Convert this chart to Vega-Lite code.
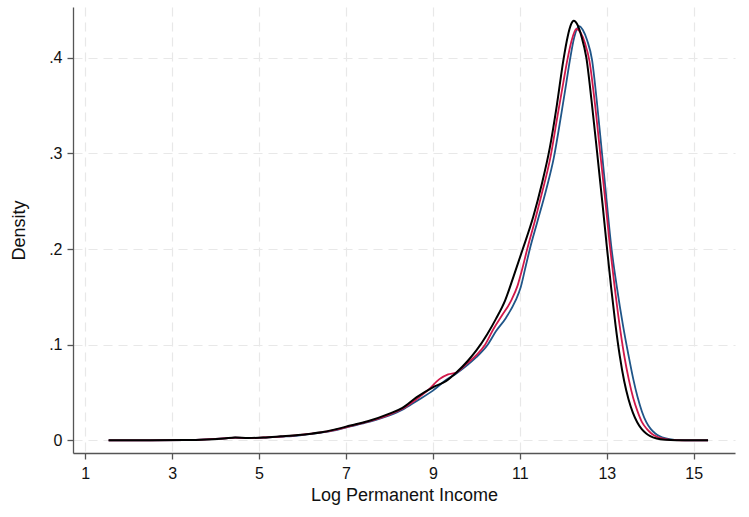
{
  "$schema": "https://vega.github.io/schema/vega-lite/v6.json",
  "autosize": {"type": "none"},
  "padding": {"left": 73, "top": 7, "right": 14, "bottom": 64},
  "width": 662,
  "height": 446,
  "background": "white",
  "config": {
    "view": {"stroke": null},
    "axis": {
      "labelFont": "Liberation Sans",
      "titleFont": "Liberation Sans",
      "labelFontSize": 16,
      "titleFontSize": 18,
      "titleFontWeight": "normal",
      "labelColor": "#111",
      "titleColor": "#111",
      "domainColor": "#555",
      "domainWidth": 1.3,
      "tickColor": "#555",
      "tickWidth": 1.3,
      "tickSize": 6,
      "grid": true,
      "gridColor": "#e8e8e8",
      "gridWidth": 1.2,
      "gridDash": [9, 6]
    }
  },
  "datasets": {
    "blue": [
      {"x":1.54,"y":0},{"x":2.5,"y":0},{"x":3.3,"y":0.0003},{"x":3.8,"y":0.001},{"x":4.2,"y":0.002},{"x":4.45,"y":0.0028},{"x":4.75,"y":0.0025},{"x":5.1,"y":0.0028},{"x":5.5,"y":0.0038},{"x":5.9,"y":0.005},{"x":6.2,"y":0.0068},{"x":6.5,"y":0.0086},{"x":6.8,"y":0.011},{"x":7.1,"y":0.0145},{"x":7.5,"y":0.019},{"x":8.0,"y":0.026},{"x":8.3,"y":0.032},{"x":8.62,"y":0.041},{"x":9.0,"y":0.052},{"x":9.3,"y":0.063},{"x":9.54,"y":0.07},{"x":9.8,"y":0.079},{"x":10.0,"y":0.087},{"x":10.26,"y":0.1},{"x":10.45,"y":0.114},{"x":10.68,"y":0.128},{"x":10.9,"y":0.146},{"x":11.02,"y":0.16},{"x":11.12,"y":0.179},{"x":11.23,"y":0.2},{"x":11.4,"y":0.228},{"x":11.6,"y":0.261},{"x":11.78,"y":0.295},{"x":11.95,"y":0.34},{"x":12.07,"y":0.374},{"x":12.15,"y":0.397},{"x":12.25,"y":0.421},{"x":12.36,"y":0.433},{"x":12.45,"y":0.429},{"x":12.55,"y":0.418},{"x":12.66,"y":0.398},{"x":12.77,"y":0.355},{"x":12.89,"y":0.3},{"x":13.0,"y":0.249},{"x":13.1,"y":0.204},{"x":13.23,"y":0.161},{"x":13.37,"y":0.121},{"x":13.5,"y":0.089},{"x":13.61,"y":0.064},{"x":13.71,"y":0.045},{"x":13.81,"y":0.03},{"x":13.91,"y":0.019},{"x":14.01,"y":0.012},{"x":14.11,"y":0.0075},{"x":14.21,"y":0.0045},{"x":14.36,"y":0.002},{"x":14.56,"y":0.0006},{"x":14.8,"y":0.0001},{"x":15.33,"y":0}
    ],
    "red": [
      {"x":1.54,"y":0},{"x":2.5,"y":0},{"x":3.3,"y":0.0003},{"x":3.8,"y":0.001},{"x":4.2,"y":0.002},{"x":4.45,"y":0.0028},{"x":4.75,"y":0.0025},{"x":5.1,"y":0.003},{"x":5.5,"y":0.004},{"x":5.9,"y":0.0055},{"x":6.2,"y":0.007},{"x":6.5,"y":0.0088},{"x":6.8,"y":0.0115},{"x":7.1,"y":0.015},{"x":7.5,"y":0.0195},{"x":8.0,"y":0.027},{"x":8.3,"y":0.033},{"x":8.62,"y":0.043},{"x":8.9,"y":0.053},{"x":9.15,"y":0.064},{"x":9.35,"y":0.069},{"x":9.54,"y":0.071},{"x":9.8,"y":0.081},{"x":10.0,"y":0.089},{"x":10.2,"y":0.1},{"x":10.4,"y":0.117},{"x":10.58,"y":0.13},{"x":10.8,"y":0.146},{"x":10.95,"y":0.162},{"x":11.06,"y":0.18},{"x":11.17,"y":0.2},{"x":11.35,"y":0.23},{"x":11.5,"y":0.257},{"x":11.7,"y":0.295},{"x":11.87,"y":0.34},{"x":12.0,"y":0.374},{"x":12.09,"y":0.397},{"x":12.18,"y":0.416},{"x":12.3,"y":0.43},{"x":12.4,"y":0.426},{"x":12.5,"y":0.415},{"x":12.6,"y":0.397},{"x":12.72,"y":0.355},{"x":12.85,"y":0.3},{"x":12.97,"y":0.249},{"x":13.07,"y":0.204},{"x":13.18,"y":0.161},{"x":13.29,"y":0.122},{"x":13.4,"y":0.089},{"x":13.51,"y":0.063},{"x":13.61,"y":0.044},{"x":13.71,"y":0.03},{"x":13.81,"y":0.019},{"x":13.92,"y":0.012},{"x":14.02,"y":0.0075},{"x":14.12,"y":0.0045},{"x":14.27,"y":0.002},{"x":14.47,"y":0.0006},{"x":14.72,"y":0.0001},{"x":15.33,"y":0}
    ],
    "black": [
      {"x":1.54,"y":0},{"x":2.5,"y":0},{"x":3.3,"y":0.0003},{"x":3.8,"y":0.001},{"x":4.2,"y":0.002},{"x":4.45,"y":0.003},{"x":4.75,"y":0.0025},{"x":5.1,"y":0.003},{"x":5.5,"y":0.0042},{"x":5.9,"y":0.0055},{"x":6.2,"y":0.007},{"x":6.5,"y":0.009},{"x":6.8,"y":0.012},{"x":7.1,"y":0.0155},{"x":7.5,"y":0.02},{"x":8.0,"y":0.028},{"x":8.3,"y":0.034},{"x":8.62,"y":0.045},{"x":9.0,"y":0.0555},{"x":9.3,"y":0.062},{"x":9.54,"y":0.071},{"x":9.8,"y":0.083},{"x":10.0,"y":0.094},{"x":10.25,"y":0.111},{"x":10.45,"y":0.127},{"x":10.66,"y":0.146},{"x":10.86,"y":0.172},{"x":11.06,"y":0.199},{"x":11.31,"y":0.234},{"x":11.5,"y":0.267},{"x":11.69,"y":0.306},{"x":11.85,"y":0.35},{"x":12.0,"y":0.397},{"x":12.1,"y":0.422},{"x":12.18,"y":0.435},{"x":12.24,"y":0.4385},{"x":12.32,"y":0.435},{"x":12.42,"y":0.422},{"x":12.53,"y":0.4},{"x":12.65,"y":0.355},{"x":12.78,"y":0.3},{"x":12.9,"y":0.248},{"x":13.0,"y":0.203},{"x":13.1,"y":0.16},{"x":13.2,"y":0.121},{"x":13.3,"y":0.088},{"x":13.4,"y":0.062},{"x":13.5,"y":0.043},{"x":13.6,"y":0.029},{"x":13.7,"y":0.019},{"x":13.8,"y":0.012},{"x":13.9,"y":0.0075},{"x":14.0,"y":0.0045},{"x":14.15,"y":0.002},{"x":14.35,"y":0.0006},{"x":14.6,"y":0.0001},{"x":15.33,"y":0}
    ]
  },
  "encoding": {
    "x": {
      "field": "x", "type": "quantitative",
      "scale": {"domain": [0.72, 15.95], "nice": false, "zero": false},
      "axis": {"values": [1, 3, 5, 7, 9, 11, 13, 15], "title": "Log Permanent Income", "labelPadding": 6, "titlePadding": 5}
    },
    "y": {
      "field": "y", "type": "quantitative",
      "scale": {"domain": [-0.0132, 0.453], "nice": false, "zero": false},
      "axis": {"values": [0, 0.1, 0.2, 0.3, 0.4], "title": "Density", "labelExpr": "datum.value == 0 ? '0' : '.' + round(datum.value * 10)", "labelPadding": 5, "titlePadding": 20}
    }
  },
  "layer": [
    {"data": {"name": "blue"}, "mark": {"type": "line", "color": "#1f5588", "strokeWidth": 1.8, "interpolate": "monotone"}},
    {"data": {"name": "red"}, "mark": {"type": "line", "color": "#d0184a", "strokeWidth": 1.8, "interpolate": "monotone"}},
    {"data": {"name": "black"}, "mark": {"type": "line", "color": "#000000", "strokeWidth": 2, "interpolate": "monotone"}}
  ]
}
